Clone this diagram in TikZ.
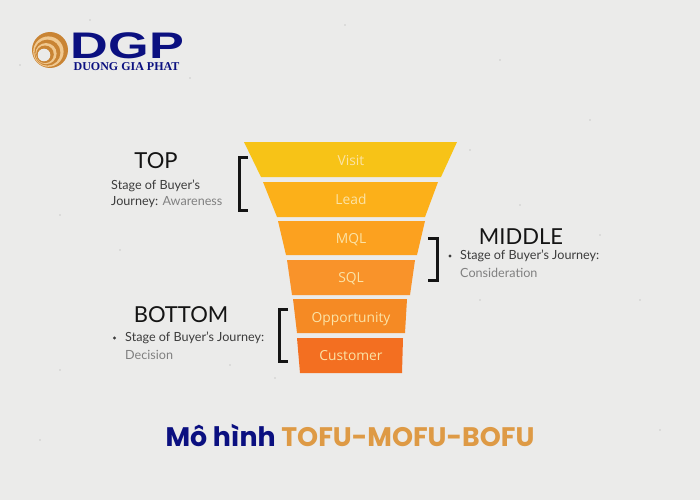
\documentclass[tikz,border=0pt]{standalone}
\usepackage{graphicx}
\usepackage{fontspec}
\setmainfont{Lato}
\newfontfamily\labelfont{Open Sans}
\newfontfamily\titlefont{Poppins}
\newfontfamily\logofont{Liberation Sans}
\newfontfamily\logoserif{Liberation Serif}
\definecolor{bgc}{HTML}{EBEBEA}
\definecolor{c1}{HTML}{F7C317}
\definecolor{c2}{HTML}{FCB019}
\definecolor{c3}{HTML}{FCA11F}
\definecolor{c4}{HTML}{F9932A}
\definecolor{c5}{HTML}{F58A24}
\definecolor{c6}{HTML}{F36F21}
\definecolor{lab}{HTML}{FBE3A6}
\definecolor{navy}{HTML}{0B1080}
\definecolor{gold}{HTML}{DE9A45}
\definecolor{ink}{HTML}{141414}
\definecolor{body}{HTML}{3C3C3C}
\definecolor{pale}{HTML}{808080}
\definecolor{sw1}{HTML}{C98434}
\definecolor{sw2}{HTML}{F0C890}
\tikzset{
  seg/.style={fill=#1,draw=none},
  seglabel/.style={text=lab,font=\labelfont\fontsize{13.8}{15}\selectfont,anchor=base,inner sep=0pt},
  headtext/.style={text=ink,font=\fontsize{22}{24}\selectfont,anchor=center,inner sep=0pt},
  bodytext/.style={text=body,font=\fontsize{12.6}{14}\selectfont,anchor=west,inner sep=0pt},
  paletext/.style={text=pale,font=\fontsize{12.6}{14}\selectfont,anchor=west,inner sep=0pt},
  brk/.style={draw=ink,line width=3pt,miter limit=10}
}
\begin{document}
\begin{tikzpicture}[x=1pt,y=-1pt]
\useasboundingbox (0,0) rectangle (700,500);
\fill[bgc] (0,0) rectangle (700,500);
% specks
\foreach \px/\py in {60/370,20/65,190/78,470/150,520/205,600/235,640/300,60/215,230/365,275/378,480/300,40/440,660/430,590/120,120/250,345/25,500/60,90/20}
  \fill[black!35] (\px,\py) circle (0.6);
% funnel
\fill[seg=c1] (244,142) -- (457,142) -- (441,177) -- (261,177) -- cycle;
\fill[seg=c2] (263,182) -- (438,182) -- (425,217) -- (277,217) -- cycle;
\fill[seg=c3] (278,221) -- (425,221) -- (417,255) -- (286,255) -- cycle;
\fill[seg=c4] (287,260) -- (415,260) -- (410,295) -- (292,295) -- cycle;
\fill[seg=c5] (293,299) -- (407,299) -- (405,333) -- (297,333) -- cycle;
\fill[seg=c6] (297,338) -- (403,338) -- (402,373) -- (300,373) -- cycle;
\node[seglabel] (visit) at (351,165.5) {Visit};
\node[seglabel] (lead) at (351,204.5) {Lead};
\node[seglabel] (mql) at (351,243.5) {MQL};
\node[seglabel] (sql) at (351,282.5) {SQL};
\node[seglabel] (opp) at (351,322) {Opportunity};
\node[seglabel] (cust) at (351,360.5) {Customer};
% brackets
\draw[brk] (248,157.5) -- (239,157.5) -- (239,210) -- (248,210);
\draw[brk] (428,238) -- (437,238) -- (437,280.5) -- (428,280.5);
\draw[brk] (288,309) -- (279,309) -- (279,361) -- (288,361);
% TOP
\node[headtext] (top) at (156,161) {TOP};
\node[bodytext] (top1) at (111,186) {Stage of Buyer's};
\node[bodytext] (top2a) at (111,202.5) {Journey: \textcolor{pale}{Awareness}};
% MIDDLE
\node[headtext] (mid) at (521,237) {MIDDLE};
\fill[body] (450,256) circle (1.7);
\node[bodytext] (mid1) at (460,256) {Stage of Buyer's Journey:};
\node[paletext] (mid2) at (460,273) {Consideration};
% BOTTOM
\node[headtext] (bot) at (181,314.5) {BOTTOM};
\fill[body] (114.5,338) circle (1.7);
\node[bodytext] (bot1) at (125,338) {Stage of Buyer's Journey:};
\node[paletext] (bot2) at (125,355) {Decision};
% title
\node[anchor=center,inner sep=0pt,font=\titlefont\bfseries\fontsize{26.8}{30}\selectfont] (title) at (350,435) {\textcolor{navy}{Mô hình} \textcolor{gold}{TOFU-MOFU-BOFU}};
% logo
\fill[sw1] (50,50) circle (18);
\fill[sw2] (48.4,51.6) circle (15.2);
\fill[sw1] (47.4,52.6) circle (13);
\fill[sw2] (46,53.6) circle (10.6);
\fill[sw1] (45,54.3) circle (8.8);
\fill[bgc] (44,55) circle (6.3);
\node[anchor=center,inner sep=0pt,text=navy,font=\logofont\bfseries\fontsize{37}{37}\selectfont] (dgp) at (127.5,45.5) {\scalebox{1.41}[1]{DGP}};
\node[anchor=center,inner sep=0pt,text=navy,font=\logoserif\bfseries\fontsize{12}{12}\selectfont] (dgpname) at (126.5,67) {DUONG GIA PHAT};
\end{tikzpicture}
\end{document}
